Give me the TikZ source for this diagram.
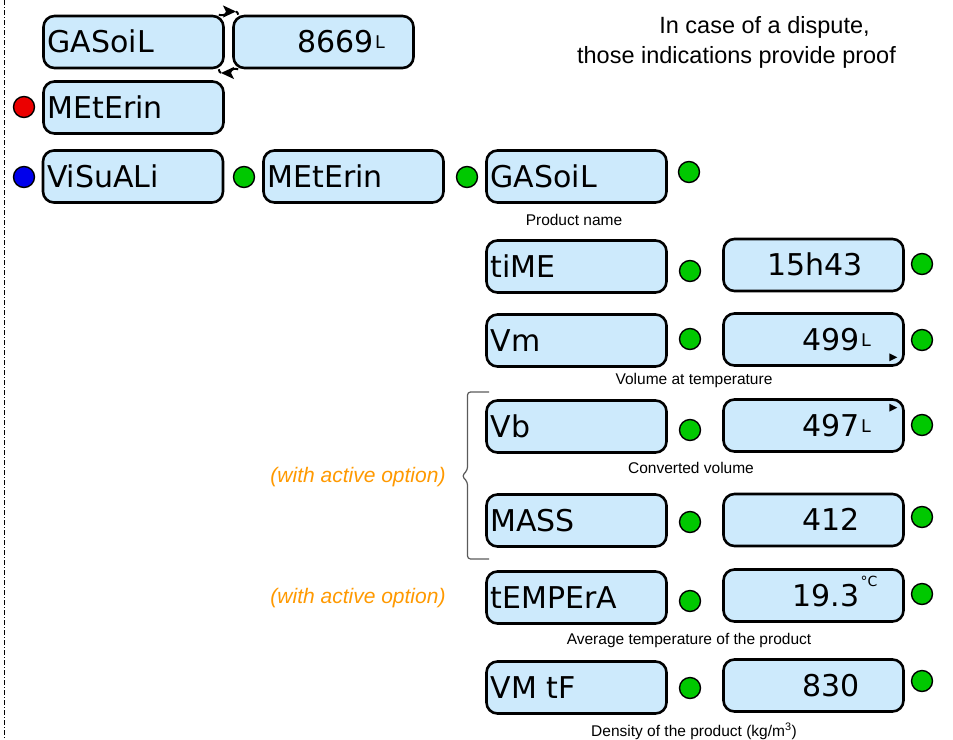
\documentclass[tikz,border=0pt]{standalone}
\usepackage{fontspec}
\setmainfont{Liberation Sans}
\newfontfamily\lcdfont{DejaVu Sans}
\usetikzlibrary{arrows.meta}
\definecolor{boxblue}{RGB}{205,234,252}
\definecolor{ledgreen}{RGB}{0,200,0}
\definecolor{ledred}{RGB}{235,0,0}
\definecolor{ledblue}{RGB}{0,0,235}
\definecolor{optorange}{RGB}{255,153,0}
\definecolor{bracegray}{RGB}{90,90,90}
\newcommand\lunit{\rlap{\hspace{1.5pt}\raisebox{4pt}{\fontsize{17.5}{17.5}\selectfont L}}}
\newcommand\degunit{\rlap{\hspace{1pt}\raisebox{20pt}{\fontsize{14}{14}\selectfont °C}}}
\begin{document}
\begin{tikzpicture}[x=1pt,y=-1pt,
  lcdbox/.style={draw=black, line width=2.6pt, fill=boxblue, rounded corners=11pt,
    minimum width=180pt, minimum height=52pt, inner ysep=0pt,
    text height=21pt, text depth=0pt, font=\lcdfont\fontsize{30}{30}\selectfont},
  lblbox/.style={lcdbox, inner xsep=4pt, text width=172pt, align=left},
  valbox/.style={lcdbox, inner xsep=44pt, text width=92pt, align=right},
  led/.style={circle, draw=black, line width=1.4pt, minimum size=21pt, inner sep=0pt},
  caption/.style={font=\fontsize{15.5}{18}\selectfont, anchor=base},
  note/.style={font=\fontsize{23.5}{26}\selectfont, anchor=base},
  option/.style={font=\fontsize{21}{24}\selectfont\itshape, text=optorange, anchor=base},
  swapline/.style={line width=2pt},
  swaptip/.style={swapline, -{Stealth[length=13pt,width=12pt,inset=3pt]}}
]
\useasboundingbox (0,0) rectangle (953,739);

\draw[dash pattern=on 5pt off 2pt on 1pt off 2pt, line width=1pt] (4.5,0) -- (4.5,739);

% top row
\node[lblbox] (gas1) at (133.5,42) {GASoiL};
\node[valbox, inner xsep=40pt, text width=100pt] (v8669) at (323.5,42) {8669\lunit};
\coordinate (topmid) at (236,11.5);
\coordinate (botmid) at (221,73);
\draw[swaptip] ([xshift=-6pt]gas1.north east) to[out=-20, in=180] (topmid);
\draw[swapline] (topmid) to[out=0, in=120] ([xshift=6pt]v8669.north west);
\draw[swaptip] ([xshift=6pt]v8669.south west) to[out=160, in=0] (botmid);
\draw[swapline] (botmid) to[out=180, in=-60] ([xshift=-6pt]gas1.south east);

\node[note] (note1) at (764.5,33) {In case of a dispute,};
\node[note] (note2) at (736.5,63) {those indications provide proof};

% second row
\node[led, fill=ledred] (ledr) at (24,107) {};
\node[lblbox] (met1) at (133.5,107.5) {MEtErin};

% third row
\node[led, fill=ledblue] (ledb) at (24,177) {};
\node[lblbox] (vis) at (133,176.5) {ViSuALi};
\node[led, fill=ledgreen] (ledv) at (244,177) {};
\node[lblbox] (met2) at (353.5,176.5) {MEtErin};
\node[led, fill=ledgreen] (ledm) at (467,177) {};
\node[lblbox] (gas2) at (576.5,176.5) {GASoiL};
\node[led, fill=ledgreen] (ledg) at (689,172) {};
\node[caption] (capname) at (574,225) {Product name};

% time
\node[lblbox] (time) at (576.5,266.5) {tiME};
\node[led, fill=ledgreen] (ledt1) at (690,271) {};
\node[valbox] (vtime) at (813.5,265) {15h43};
\node[led, fill=ledgreen] (ledt2) at (922,264) {};

% Vm
\node[lblbox] (vm) at (576.5,340.5) {Vm};
\node[led, fill=ledgreen] (ledvm1) at (690,339) {};
\node[valbox] (v499) at (813.5,339.5) {499\lunit};
\node[led, fill=ledgreen] (ledvm2) at (922,340) {};
\fill ([shift={(-15.5,-13.5)}]v499.south east) -- ++(8,4) -- ++(-8,4) -- cycle;
\node[caption] (capvm) at (694,384) {Volume at temperature};

% Vb
\node[lblbox] (vb) at (576.5,426.5) {Vb};
\node[led, fill=ledgreen] (ledvb1) at (690,430) {};
\node[valbox] (v497) at (813.5,425.5) {497\lunit};
\node[led, fill=ledgreen] (ledvb2) at (922,425) {};
\fill ([shift={(-15.5,5.5)}]v497.north east) -- ++(8,4) -- ++(-8,4) -- cycle;
\node[caption] (capvb) at (691,473) {Converted volume};

% MASS
\node[lblbox] (mass) at (576.5,520.5) {MASS};
\node[led, fill=ledgreen] (ledms1) at (690,522) {};
\node[valbox] (v412) at (813.5,520) {412};
\node[led, fill=ledgreen] (ledms2) at (922,517) {};

% brace and option label
\draw[bracegray, line width=1.2pt, rounded corners=3pt]
  (489,392) -- (467.5,392) -- (467.5,470) -- (462,476) -- (467.5,482) -- (467.5,559) -- (489,559);
\node[option] (opt1) at (358,482) {(with active option)};

% temperature
\node[option] (opt2) at (358,603) {(with active option)};
\node[lblbox] (temp) at (576.5,597.5) {tEMPErA};
\node[led, fill=ledgreen] (ledtp1) at (690,601) {};
\node[valbox] (v193) at (813.5,595.5) {19.3\degunit};
\node[led, fill=ledgreen] (ledtp2) at (922,594) {};
\node[caption] (captp) at (689,644) {Average temperature of the product};

% density
\node[lblbox] (vmtf) at (576.5,687.5) {VM tF};
\node[led, fill=ledgreen] (leddn1) at (690,688) {};
\node[valbox] (v830) at (813.5,685.5) {830};
\node[led, fill=ledgreen] (leddn2) at (922,681) {};
\node[caption] (capdn) at (694,736) {Density of the product (kg/m\textsuperscript{3})};
\end{tikzpicture}
\end{document}
